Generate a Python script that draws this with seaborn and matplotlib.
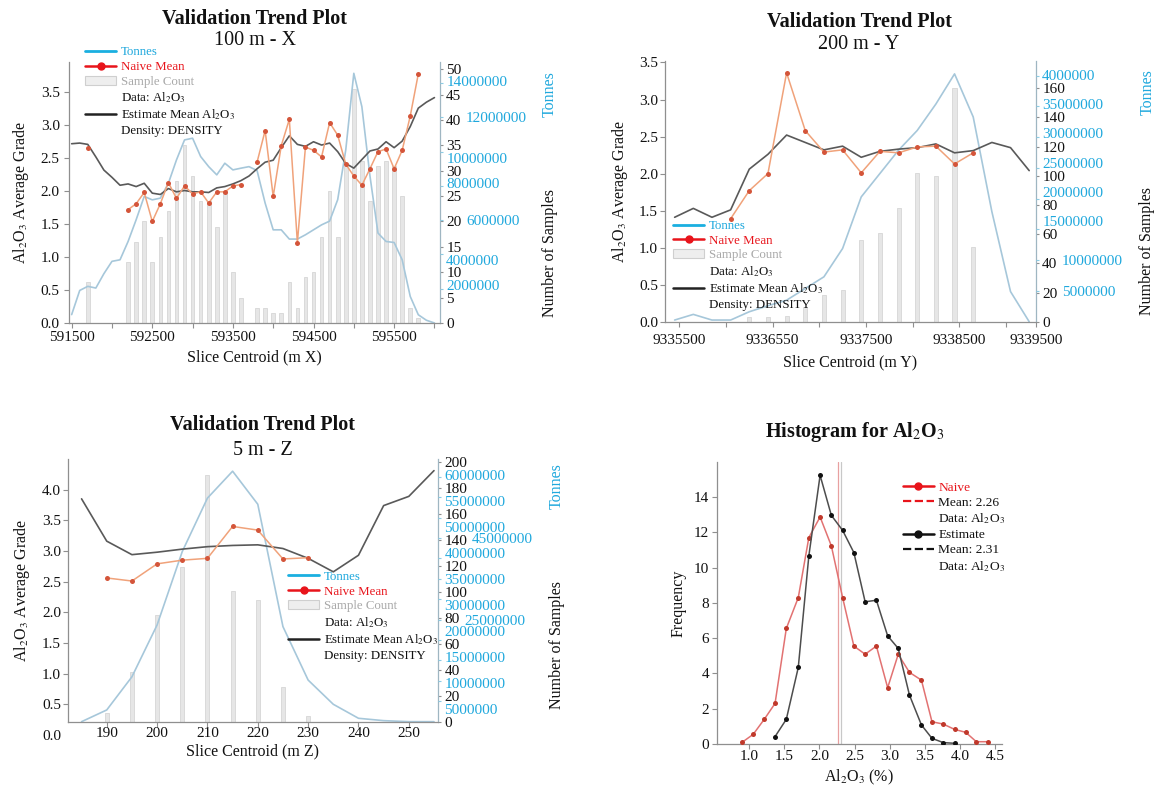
import numpy as np
import pandas as pd
import matplotlib
matplotlib.use("Agg")
import matplotlib.pyplot as plt
import matplotlib.transforms as mtrans
from matplotlib.lines import Line2D
from matplotlib.patches import Patch
import seaborn as sns

sns.set_theme(style="ticks")
plt.rcParams["font.family"] = ["Liberation Serif", "DejaVu Serif"]
plt.rcParams["mathtext.fontset"] = "stix"
plt.rcParams["axes.unicode_minus"] = False

AL = "Al$_2$O$_3$"
nan = np.nan

# ---------------- data: 100 m - X ----------------
x_X = [591500, 591600, 591700, 591800, 591900, 592000, 592100, 592200, 592300, 592400,
       592500, 592600, 592700, 592800, 592900, 593000, 593100, 593200, 593300, 593400,
       593500, 593600, 593700, 593800, 593900, 594000, 594100, 594200, 594300, 594400,
       594500, 594600, 594700, 594800, 594900, 595000, 595100, 595200, 595300, 595400,
       595500, 595600, 595700, 595800, 595900, 596000]
est_X = [2.72, 2.73, 2.71, 2.52, 2.32, 2.21, 2.09, 2.11, 2.07, 2.12, 1.97, 1.95, 2.04, 1.99,
         2.01, 1.99, 1.99, 1.98, 2.05, 2.07, 2.11, 2.16, 2.23, 2.34, 2.44, 2.47, 2.66, 2.84,
         2.71, 2.68, 2.75, 2.70, 2.73, 2.60, 2.42, 2.35, 2.48, 2.61, 2.64, 2.75, 2.66, 2.76,
         2.98, 3.26, 3.35, 3.42]
naive_X = [nan, nan, 2.66, nan, nan, nan, nan, 1.72, 1.81, 1.98, 1.54, 1.81, 2.13, 1.89,
           2.08, 1.96, 1.99, 1.82, 1.99, 1.99, 2.08, 2.10, nan, 2.44, 2.92, 1.92, 2.69, 3.09,
           1.22, 2.67, 2.62, 2.52, 3.04, 2.85, 2.41, 2.23, 2.09, 2.34, 2.60, 2.64, 2.34, 2.62,
           3.14, 3.78, nan, nan]
tonnes_X_M = [0.49, 1.90, 2.14, 2.04, 2.88, 3.60, 3.69, 4.76, 6.03, 7.39, 7.19, 7.29, 8.16,
              9.52, 10.69, 10.79, 9.72, 9.13, 8.65, 9.33, 8.94, 9.04, 9.13, 8.90, 7.00, 5.44,
              5.44, 4.90, 4.90, 5.15, 5.44, 5.73, 5.95, 7.20, 10.10, 14.58, 12.63, 8.60, 5.25,
              4.76, 4.70, 3.69, 1.55, 0.48, 0.16, 0.00]
samp_x_X = [591700, 592200, 592300, 592400, 592500, 592600, 592700, 592800, 592900, 593000,
            593100, 593200, 593300, 593400, 593500, 593600, 593800, 593900, 594000, 594100,
            594200, 594300, 594400, 594500, 594600, 594700, 594800, 594900, 595000, 595100,
            595200, 595300, 595400, 595500, 595600, 595700, 595800]
samp_n_X = [8, 12, 16, 20, 12, 17, 22, 28, 35, 29, 24, 24, 19, 26, 10, 5, 3, 3, 2, 2, 8, 3, 9,
            10, 17, 26, 17, 31, 46, 32, 24, 31, 32, 31, 25, 3, 1]
xticks_X = [591500, 592500, 593500, 594500, 595500]
xticklabels_X = ["591500", "592500", "593500", "594500", "595500"]
xminor_X = [592000, 593000, 594000, 595000, 596000]
tticks_X = [2e6, 4e6, 6e6, 8e6, 10e6, 12e6, 14e6]
tlabels_X = ["2000000", "4000000", "6000000", "8000000", "10000000", "12000000", "14000000"]

# ---------------- data: 200 m - Y ----------------
x_Y = [9335450, 9335650, 9335850, 9336050, 9336250, 9336450, 9336650, 9336850, 9337050,
       9337250, 9337450, 9337650, 9337850, 9338050, 9338250, 9338450, 9338650, 9338850,
       9339050, 9339250]
est_Y = [1.41, 1.53, 1.41, 1.51, 2.06, 2.26, 2.52, 2.42, 2.32, 2.37, 2.22, 2.30, 2.33, 2.35,
         2.40, 2.28, 2.31, 2.42, 2.35, 2.04]
naive_Y = [nan, nan, nan, 1.39, 1.77, 2.00, 3.36, 2.58, 2.29, 2.32, 2.01, 2.30, 2.28, 2.36,
           2.37, 2.13, 2.28, nan, nan, nan]
tonnes_Y_M = [0.27, 1.19, 0.27, 0.27, 1.62, 2.6, 3.5, 5.4, 7.3, 11.9, 20.3, 24.1, 27.9, 31.1,
              35.4, 40.3, 33.3, 17.9, 4.9, 0.0]
samp_x_Y = [9336250, 9336450, 9336650, 9336850, 9337050, 9337250, 9337450, 9337650,
            9337850, 9338050, 9338250, 9338450, 9338650]
samp_n_Y = [3, 3, 4, 10, 18, 22, 56, 61, 78, 102, 100, 160, 51]
xticks_Y = [9335500, 9336500, 9337500, 9338500, 9339323]
xticklabels_Y = ["9335500", "9336550", "9337500", "9338500", "9339500"]
xminor_Y = [9336000, 9337000, 9338000, 9339000]
tticks_Y = [5e6, 10e6, 15e6, 20e6, 25e6, 30e6, 35e6, 40e6]
tlabels_Y = ["5000000", "10000000", "15000000", "20000000", "25000000", "30000000",
             "35000000", "4000000"]

# ---------------- data: 5 m - Z ----------------
x_Z = [185, 190, 195, 200, 205, 210, 215, 220, 225, 230, 235, 240, 245, 250, 255]
est_Z = [3.85, 3.16, 2.94, 2.98, 3.03, 3.07, 3.09, 3.10, 3.04, 2.88, 2.66, 2.93, 3.74, 3.89, 4.31]
naive_Z = [nan, 2.56, 2.51, 2.79, 2.85, 2.88, 3.40, 3.34, 2.87, 2.89, nan, nan, nan, nan, nan]
tonnes_Z_M = [0.0, 2.87, 11.0, 23.7, 41.7, 54.8, 61.4, 53.3, 23.3, 10.2, 4.26, 0.83, 0.25, 0.0, 0.0]
samp_x_Z = [190, 195, 200, 205, 210, 215, 220, 225, 230]
samp_n_Z = [7, 38, 82, 119, 190, 101, 94, 27, 4]
xticks_Z = [190, 200, 210, 220, 230, 240, 250]
xticklabels_Z = ["190", "200", "210", "220", "230", "240", "250"]
tticks_Z = [5e6, 10e6, 15e6, 20e6, 25e6, 30e6, 35e6, 40e6, 45e6, 50e6, 55e6, 60e6]
tlabels_Z = ["5000000", "10000000", "15000000", "20000000", "25000000", "30000000",
             "35000000", "40000000", "45000000", "50000000", "55000000", "60000000"]

# ---------------- data: histogram ----------------
hist_naive_x = [0.90, 1.06, 1.22, 1.37, 1.53, 1.70, 1.85, 2.01, 2.17, 2.33, 2.49, 2.65, 2.81,
                2.97, 3.12, 3.28, 3.45, 3.60, 3.76, 3.92, 4.08, 4.23, 4.39]
hist_naive_f = [0.09, 0.55, 1.42, 2.30, 6.55, 8.30, 11.70, 12.87, 11.23, 8.30, 5.55, 5.09,
                5.55, 3.19, 5.08, 4.06, 3.62, 1.26, 1.13, 0.83, 0.66, 0.13, 0.13]
hist_est_x = [1.37, 1.53, 1.70, 1.85, 2.01, 2.17, 2.33, 2.49, 2.65, 2.81, 2.97, 3.12, 3.28,
              3.45, 3.60, 3.76, 3.92]
hist_est_f = [0.42, 1.40, 4.34, 10.66, 15.23, 12.96, 12.11, 10.85, 8.06, 8.15, 6.13, 5.42,
              2.77, 1.08, 0.32, 0.08, 0.04]
naive_mean = 2.26
est_mean = 2.31

# ---------------- styles ----------------
C_TON_LINE = "#A6C7DA"
C_TON_TXT = "#1FA8DD"
C_NAIVE_LINE = "#F0A27A"
C_NAIVE_MK = "#D4553A"
C_EST = "#595959"
C_BAR = "#E6E6E6"
C_SPINE = "#8F8F8F"
FS_TICK = 11
FS_LAB = 11.5
FS_LEG = 9.3
FS_TITLE = 14.5

fig = plt.figure(figsize=(11.6, 7.92), dpi=100)


def runs(vals):
    seg, s, prev_nan = [], 0, True
    for v in vals:
        if np.isnan(v):
            prev_nan = True
            seg.append(-1)
        else:
            if prev_nan:
                s += 1
            prev_nan = False
            seg.append(s)
    return seg


def tonnes_labels(ax_t, s_ticks, s_top, t_ticks, t_labels, t_top):
    H = ax_t.get_position().height * fig.get_figheight() * 72.0
    tr = mtrans.blended_transform_factory(ax_t.transAxes, ax_t.transData)
    s_pos = np.array(s_ticks, dtype=float) / s_top * H
    for t, lab in zip(t_ticks, t_labels):
        yt = t / t_top * H
        i = int(np.argmin(np.abs(s_pos - yt)))
        d = yt - s_pos[i]
        dx, dy = 0.0, 0.0
        if abs(d) < 2.6:
            dx = (len(str(s_ticks[i])) * 0.5 + 0.3) * FS_TICK
        elif abs(d) < 9.4:
            dy = (9.4 - abs(d)) * (1 if d >= 0 else -1)
        ax_t.annotate(lab, xy=(1, t), xycoords=tr,
                      xytext=(4.5 + dx, dy), textcoords="offset points",
                      ha="left", va="center_baseline", fontsize=FS_TICK,
                      color=C_TON_TXT, annotation_clip=False)


def trend_panel(c):
    ax = fig.add_axes(c["rect"])
    ax_s = ax.twinx()
    ax_t = ax.twinx()
    ax.set_zorder(3)
    ax.patch.set_visible(False)
    ax_s.set_zorder(1)
    ax_t.set_zorder(2)

    df_s = pd.DataFrame({"x": c["samp_x"], "n": c["samp_n"]})
    sns.barplot(data=df_s, x="x", y="n", native_scale=True, orient="v",
                width=c["bar_w"], color=C_BAR, edgecolor="#D6D6D6", linewidth=0.6,
                saturation=1, errorbar=None, ax=ax_s)

    df_t = pd.DataFrame({"x": c["x"], "t": np.array(c["tonnes_M"]) * 1e6})
    sns.lineplot(data=df_t, x="x", y="t", color=C_TON_LINE, lw=1.2, ax=ax_t, legend=False)

    df_e = pd.DataFrame({"x": c["x"], "v": c["est"]})
    sns.lineplot(data=df_e, x="x", y="v", color=C_EST, lw=1.2, ax=ax, legend=False)

    df_n = pd.DataFrame({"x": c["x"], "v": c["naive"], "seg": runs(c["naive"])})
    df_n = df_n[df_n["seg"] >= 0]
    sns.lineplot(data=df_n, x="x", y="v", units="seg", estimator=None, color=C_NAIVE_LINE,
                 lw=1.1, marker="o", markersize=3.6, markerfacecolor=C_NAIVE_MK,
                 markeredgecolor=C_NAIVE_MK, markeredgewidth=0, ax=ax, legend=False)

    ax.set_xlim(c["xlim"])
    ax.set_ylim(c["g_lim"])
    ax_s.set_ylim(0, c["s_top"])
    ax_t.set_ylim(0, c["t_top"])

    for a in (ax, ax_s, ax_t):
        for s in ("top", "right", "left", "bottom"):
            a.spines[s].set_visible(False)
    for s in ("left", "bottom"):
        ax.spines[s].set_visible(True)
        ax.spines[s].set_color(C_SPINE)
        ax.spines[s].set_linewidth(0.9)
    ax_s.spines["right"].set_visible(True)
    ax_s.spines["right"].set_color("#9FB6C2")
    ax_s.spines["right"].set_linewidth(0.9)

    ax.set_xticks(c["xticks"])
    ax.set_xticklabels(c["xticklabels"])
    if c.get("xminor"):
        ax.set_xticks(c["xminor"], minor=True)
    ax.tick_params(axis="x", which="both", bottom=True, direction="out", length=3.5,
                   width=0.8, color=C_SPINE, labelsize=FS_TICK, pad=c["xpad"],
                   labelcolor="#111111")
    ax.set_yticks(c["g_ticks"])
    ax.set_yticklabels([f"{v:.1f}" for v in c["g_ticks"]])
    ax.tick_params(axis="y", left=True, direction="out", length=3.5, width=0.8,
                   color=C_SPINE, labelsize=FS_TICK, pad=c["ypad"], labelcolor="#111111")
    ax_s.set_yticks(c["s_ticks"])
    ax_s.set_yticklabels([str(v) for v in c["s_ticks"]])
    ax_s.tick_params(axis="y", right=True, direction="out", length=2.5, width=0.8,
                     color=C_SPINE, labelsize=FS_TICK, pad=2, labelcolor="#111111")
    ax_t.set_yticks(c["t_ticks"])
    ax_t.tick_params(axis="y", right=True, labelright=False, direction="out", length=2.5,
                     width=0.8, color="#8CCBE3")
    tonnes_labels(ax_t, c["s_ticks"], c["s_top"], c["t_ticks"], c["t_labels"], c["t_top"])

    if c.get("zero_label"):
        tr = mtrans.blended_transform_factory(ax.transAxes, ax.transData)
        ax.annotate("0.0", xy=(0, 0.0), xycoords=tr, xytext=(-(3.5 + c["ypad"]), 0),
                    textcoords="offset points", ha="right", va="center_baseline",
                    fontsize=FS_TICK, color="#111111", annotation_clip=False)

    ax.set_xlabel(c["xlabel"], fontsize=FS_LAB, labelpad=c["xlabpad"], color="#111111")
    ax.set_ylabel(AL + " Average Grade", fontsize=FS_LAB, labelpad=c["ylabpad"],
                  color="#111111")
    ax_s.set_xlabel("")
    ax_t.set_xlabel("")
    ax_s.set_ylabel("Number of Samples", fontsize=FS_LAB, color="#111111")
    ax_s.yaxis.set_label_coords(c["rlab_x"], c["rlab_y_s"])
    ax_t.set_ylabel("Tonnes", fontsize=FS_LAB, color=C_TON_TXT)
    ax_t.yaxis.set_label_coords(c["rlab_x"], c["rlab_y_t"])

    ax.text(c["title_x"], c["title_y"][0], "Validation Trend Plot", transform=ax.transAxes,
            ha="center", va="center", fontsize=FS_TITLE, fontweight="bold", color="#111111")
    ax.text(c["title_x"], c["title_y"][1], c["title2"], transform=ax.transAxes,
            ha="center", va="center", fontsize=FS_TITLE, color="#111111")

    blank = Line2D([], [], linestyle="none")
    handles = [Line2D([], [], color="#1AAFE0", lw=2.0),
               Line2D([], [], color="#E8141B", lw=1.8, marker="o", markersize=5),
               Patch(facecolor="#EEEEEE", edgecolor="#CFCFCF", linewidth=0.8),
               blank,
               Line2D([], [], color="#222222", lw=1.8),
               blank]
    labels = ["Tonnes", "Naive Mean", "Sample Count", "Data: " + AL,
              "Estimate Mean " + AL, "Density: DENSITY"]
    leg = ax.legend(handles, labels, loc="upper left", bbox_to_anchor=c["leg"],
                    frameon=False, fontsize=FS_LEG, handlelength=2.4, handletextpad=0.35,
                    labelspacing=0.2, borderpad=0, borderaxespad=0)
    cols = [C_TON_TXT, "#E8141B", "#A8A8A8", "#111111", "#111111", "#111111"]
    for txt, col in zip(leg.get_texts(), cols):
        txt.set_color(col)
    return ax


trend_panel(dict(
    rect=[0.0599, 0.5922, 0.3194, 0.3295], x=x_X, est=est_X, naive=naive_X,
    tonnes_M=tonnes_X_M, samp_x=samp_x_X, samp_n=samp_n_X, bar_w=0.45,
    xlim=(591473, 596069), g_lim=(0, 3.96), g_ticks=[0.0, 0.5, 1.0, 1.5, 2.0, 2.5, 3.0, 3.5],
    s_top=51.4, s_ticks=[0, 5, 10, 15, 20, 25, 30, 35, 40, 45, 50],
    t_top=15.24e6, t_ticks=tticks_X, t_labels=tlabels_X,
    xticks=xticks_X, xticklabels=xticklabels_X, xminor=xminor_X,
    xpad=2, ypad=3.5, xlabpad=4, ylabpad=7,
    xlabel="Slice Centroid (m X)", rlab_x=1.275, rlab_y_s=0.27, rlab_y_t=0.879,
    title_x=0.5, title_y=(1.165, 1.082), title2="100 m - X", leg=(0.042, 1.06)))

trend_panel(dict(
    rect=[0.5733, 0.5938, 0.3198, 0.3292], x=x_Y, est=est_Y, naive=naive_Y,
    tonnes_M=tonnes_Y_M, samp_x=samp_x_Y, samp_n=samp_n_Y, bar_w=0.22,
    xlim=(9335347, 9339323), g_lim=(0, 3.52), g_ticks=[0.0, 0.5, 1.0, 1.5, 2.0, 2.5, 3.0, 3.5],
    s_top=178.6, s_ticks=[0, 20, 40, 60, 80, 100, 120, 140, 160],
    t_top=42.4e6, t_ticks=tticks_Y, t_labels=tlabels_Y,
    xticks=xticks_Y, xticklabels=xticklabels_Y, xminor=xminor_Y,
    xpad=5.6, ypad=1.5, xlabpad=4.8, ylabpad=6.5,
    xlabel="Slice Centroid (m Y)", rlab_x=1.279, rlab_y_s=0.27, rlab_y_t=0.879,
    title_x=0.523, title_y=(1.150, 1.065), title2="200 m - Y", leg=(0.022, 0.39)))

trend_panel(dict(
    rect=[0.0586, 0.0888, 0.3190, 0.3317], x=x_Z, est=est_Z, naive=naive_Z,
    tonnes_M=tonnes_Z_M, samp_x=samp_x_Z, samp_n=samp_n_Z, bar_w=0.16,
    xlim=(182.3, 255.8), g_lim=(0.217, 4.50), g_ticks=[0.5, 1.0, 1.5, 2.0, 2.5, 3.0, 3.5, 4.0],
    s_top=202.4, s_ticks=[0, 20, 40, 60, 80, 100, 120, 140, 160, 180, 200],
    t_top=64.4e6, t_ticks=tticks_Z, t_labels=tlabels_Z,
    xticks=xticks_Z, xticklabels=xticklabels_Z, xminor=None,
    xpad=0.5, ypad=1.5, xlabpad=2.2, ylabpad=7, zero_label=True,
    xlabel="Slice Centroid (m Z)", rlab_x=1.30, rlab_y_s=0.29, rlab_y_t=0.895,
    title_x=0.526, title_y=(1.129, 1.034), title2="5 m - Z", leg=(0.595, 0.574)))

# ---------------- histogram ----------------
ax4 = fig.add_axes([0.6181, 0.0606, 0.2454, 0.3564])
ax4.axvline(naive_mean, color="#E8A0A0", lw=0.9, zorder=1)
ax4.axvline(est_mean, color="#C8C8C8", lw=0.9, zorder=1)
df_hn = pd.DataFrame({"x": hist_naive_x, "f": hist_naive_f})
df_he = pd.DataFrame({"x": hist_est_x, "f": hist_est_f})
sns.lineplot(data=df_hn, x="x", y="f", color="#E27272", lw=1.1, marker="o", markersize=3.6,
             markerfacecolor="#C0392B", markeredgecolor="#C0392B", markeredgewidth=0,
             ax=ax4, legend=False, zorder=3)
sns.lineplot(data=df_he, x="x", y="f", color="#4D4D4D", lw=1.1, marker="o", markersize=3.6,
             markerfacecolor="#111111", markeredgecolor="#111111", markeredgewidth=0,
             ax=ax4, legend=False, zorder=4)
ax4.set_xlim(0.545, 4.59)
ax4.set_ylim(0, 16)
ax4.set_xticks([1.0, 1.5, 2.0, 2.5, 3.0, 3.5, 4.0, 4.5])
ax4.set_xticklabels([f"{v:.1f}" for v in [1.0, 1.5, 2.0, 2.5, 3.0, 3.5, 4.0, 4.5]])
ax4.set_yticks([0, 2, 4, 6, 8, 10, 12, 14])
ax4.set_yticklabels([str(v) for v in [0, 2, 4, 6, 8, 10, 12, 14]])
for s in ("top", "right"):
    ax4.spines[s].set_visible(False)
for s in ("left", "bottom"):
    ax4.spines[s].set_color(C_SPINE)
    ax4.spines[s].set_linewidth(0.9)
ax4.tick_params(axis="x", bottom=True, direction="out", length=3.5, width=0.8, color=C_SPINE,
                labelsize=FS_TICK, pad=1, labelcolor="#111111")
ax4.tick_params(axis="y", left=True, direction="out", length=3.5, width=0.8, color=C_SPINE,
                labelsize=FS_TICK, pad=2.3, labelcolor="#111111")
ax4.set_xlabel(AL + " (%)", fontsize=FS_LAB, labelpad=2.9, color="#111111")
ax4.set_ylabel("Frequency", fontsize=FS_LAB, labelpad=5, color="#111111")
ax4.text(0.486, 1.105, "Histogram for " + AL, transform=ax4.transAxes, ha="center",
         va="center", fontsize=FS_TITLE, fontweight="bold", color="#111111")
blank = Line2D([], [], linestyle="none")
h4 = [Line2D([], [], color="#E8141B", lw=1.8, marker="o", markersize=5),
      Line2D([], [], color="#E8141B", lw=1.6, ls="--"),
      blank,
      Line2D([], [], color="#111111", lw=1.8, marker="o", markersize=5),
      Line2D([], [], color="#111111", lw=1.6, ls="--"),
      blank]
l4 = ["Naive", f"Mean: {naive_mean:.2f}", "Data: " + AL, "Estimate",
      f"Mean: {est_mean:.2f}", "Data: " + AL]
leg4 = ax4.legend(h4, l4, loc="upper left", bbox_to_anchor=(0.654, 0.93), frameon=False,
                  fontsize=9.6, handlelength=2.3, handletextpad=0.35, labelspacing=0.2,
                  borderpad=0, borderaxespad=0)
for txt, col in zip(leg4.get_texts(), ["#E8141B"] + ["#111111"] * 5):
    txt.set_color(col)

fig.savefig("out.png", dpi=100)
